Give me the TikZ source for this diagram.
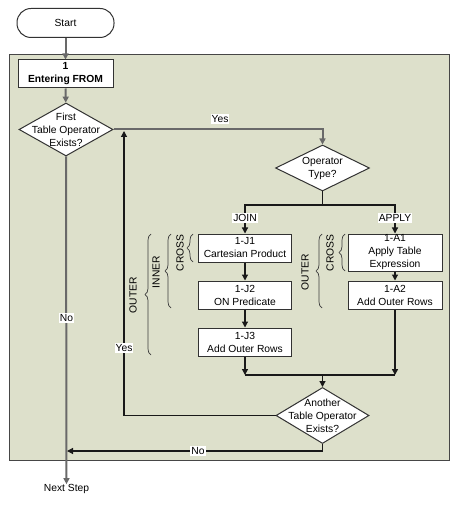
\documentclass[tikz,border=0pt]{standalone}
\usepackage{fontspec}
\setmainfont{Liberation Sans}
\usetikzlibrary{arrows.meta,shapes.geometric,decorations.pathreplacing}
\definecolor{panelfill}{RGB}{221,224,203}
\definecolor{panelline}{RGB}{70,70,70}
\definecolor{boxline}{RGB}{50,50,50}
\definecolor{maingray}{RGB}{105,105,105}
\definecolor{connblack}{RGB}{25,25,25}
\definecolor{bracecol}{RGB}{60,60,60}
\begin{document}
\begin{tikzpicture}[x=1pt,y=-1pt,
  font=\fontsize{10.3}{13}\selectfont,
  panel/.style={draw=panelline, fill=panelfill, line width=1pt, minimum width=440pt, minimum height=405pt, inner sep=0pt},
  term/.style={draw=boxline, fill=white, line width=1pt, rounded corners=14pt, minimum width=97pt, minimum height=29pt, inner sep=0pt},
  stepbox/.style={draw=boxline, fill=white, line width=1pt, minimum width=93pt, minimum height=28pt, inner sep=0pt, align=center},
  dia/.style={draw=boxline, fill=white, line width=1pt, diamond, inner sep=0pt},
  txt/.style={align=center, inner sep=0pt},
  main/.style={draw=maingray, line width=2pt},
  conn/.style={draw=connblack, line width=1.2pt},
  arr/.style={-{Triangle[length=6pt,width=6pt]}},
  lbl/.style={fill=white, inner sep=1pt},
  brc/.style={decorate, decoration={brace, amplitude=6pt}, draw=bracecol, line width=0.7pt},
  rot/.style={rotate=90, inner sep=0pt}
]
\useasboundingbox (0,0) rectangle (460,510);
% panel
\node[panel] (panel) at (229,257.5) {};
% nodes
\node[term] (start) at (65.5,23) {Start};
\node[stepbox, minimum width=95pt, font=\fontsize{10.3}{13}\selectfont\bfseries] (b1) at (65.5,74) {1\\Entering FROM};
\node[dia, minimum width=94pt, minimum height=53pt] (d1) at (66,129.5) {};
\node[txt] at (d1) {First\\Table Operator\\Exists?};
\node[dia, minimum width=94pt, minimum height=46pt] (op) at (322.5,168) {};
\node[txt] at (op) {Operator\\Type?};
\node[stepbox] (j1) at (245,248) {1-J1\\Cartesian Product};
\node[stepbox] (j2) at (245,295) {1-J2\\ON Predicate};
\node[stepbox] (j3) at (245,342) {1-J3\\Add Outer Rows};
\node[stepbox, minimum width=94pt, minimum height=37pt] (a1) at (395,252.5) {1-A1\\Apply Table\\Expression};
\node[stepbox, minimum width=94pt] (a2) at (395,295) {1-A2\\Add Outer Rows};
\node[dia, minimum width=93pt, minimum height=56pt] (d2) at (322.5,415.5) {};
\node[txt] at (d2) {Another\\Table Operator\\Exists?};
\node[txt] (next) at (66.5,489) {Next Step};
% coordinates
\coordinate (split) at (322.5,205);
\coordinate (mj) at (245,375);
\coordinate (ma) at (395,375);
\coordinate (merge) at (322.5,375);
\coordinate (loop) at (124,131);
\coordinate (ret) at (67,451);
% connectors
\draw[main,arr] (start) -- (b1);
\draw[main,arr] (b1) -- (d1);
\draw[main,arr] (d1.south) -- (next.north);
\draw[main,arr] (d1.east) -| (op.north);
\draw[conn] (op.south) -- (split);
\draw[conn,arr] (split) -| (j1.north);
\draw[conn,arr] (split) -| (a1.north);
\draw[conn,arr] (j1) -- (j2);
\draw[conn,arr] (j2) -- (j3);
\draw[conn,arr] (a1) -- (a2);
\draw[conn,arr] (j3) -- (mj);
\draw[main,draw=connblack,arr] (a2) -- (ma);
\draw[conn] (mj) -- (ma);
\draw[conn,arr] (merge) -- (d2.north);
\draw[conn,arr] (d2.west) -| (loop);
\draw[conn,arr] (d2.south) |- (ret);
% connector labels
\node[lbl] at (220,119) {Yes};
\node[lbl] at (66.5,318) {No};
\node[lbl] at (245,218) {JOIN};
\node[lbl] at (395,218) {APPLY};
\node[lbl] at (124,348) {Yes};
\node[lbl] at (198,451) {No};
% braces
\draw[brc] (193,262) -- (193,234);
\node[rot] at (180,253) {CROSS};
\draw[brc] (171,308) -- (171,234);
\node[rot] at (156,272) {INNER};
\draw[brc] (151,355) -- (151,234);
\node[rot] at (133,295) {OUTER};
\draw[brc] (345,271) -- (345,234);
\node[rot] at (330,253) {CROSS};
\draw[brc] (322,308) -- (322,234);
\node[rot] at (305,272) {OUTER};
\end{tikzpicture}
\end{document}
